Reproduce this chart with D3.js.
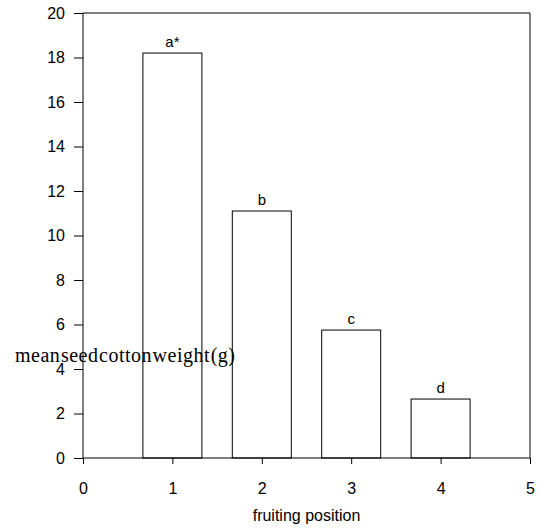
<!DOCTYPE html>
<html>
<head>
<meta charset="utf-8">
<script src="https://cdn.jsdelivr.net/npm/d3@7"></script>
<style>
  html, body { margin: 0; padding: 0; background: #fff; }
  svg { display: block; }
  text { font-family: "Liberation Sans", Arial, sans-serif; fill: #000; }
</style>
</head>
<body>
<script>
// Seed cotton weight by fruiting position
const positions = [1, 2, 3, 4];
const meanWeight = [18.2, 11.1, 5.75, 2.65];
const sigLetters = ["a*", "b", "c", "d"];
const xTicks = [0, 1, 2, 3, 4, 5];
const yTicks = [0, 2, 4, 6, 8, 10, 12, 14, 16, 18, 20];

(function () {
  const W = 542, H = 529;
  const mLeft = 83, mRight = 530, mTop = 13, mBottom = 458;
  const barWidth = 0.66;

  const svg = d3.select("body").append("svg")
    .attr("width", W).attr("height", H);

  const x = d3.scaleLinear().domain([0, 5]).range([mLeft, mRight]);
  const y = d3.scaleLinear().domain([0, 20]).range([mBottom, mTop]);

  // bars
  svg.selectAll("rect.bar")
    .data(positions)
    .enter().append("rect")
    .attr("class", "bar")
    .attr("x", (d) => x(d - barWidth / 2))
    .attr("y", (d, i) => y(meanWeight[i]))
    .attr("width", (d) => x(d + barWidth / 2) - x(d - barWidth / 2))
    .attr("height", (d, i) => y(0) - y(meanWeight[i]))
    .attr("fill", "#fff")
    .attr("stroke", "#000")
    .attr("stroke-width", 1);

  // significance letters
  svg.selectAll("text.sig")
    .data(positions)
    .enter().append("text")
    .attr("class", "sig")
    .attr("x", (d) => x(d))
    .attr("y", (d, i) => y(meanWeight[i]) - 6)
    .attr("text-anchor", "middle")
    .style("font-size", "15px")
    .text((d, i) => sigLetters[i]);

  // frame (top and right)
  svg.append("line").attr("x1", mLeft).attr("x2", mRight).attr("y1", mTop).attr("y2", mTop)
    .attr("stroke", "#000");
  svg.append("line").attr("x1", mRight).attr("x2", mRight).attr("y1", mTop).attr("y2", mBottom)
    .attr("stroke", "#000");

  // axes
  const xAxis = d3.axisBottom(x).tickValues(xTicks).tickFormat(d3.format("d"))
    .tickSize(6).tickPadding(19);
  const yAxis = d3.axisLeft(y).tickValues(yTicks).tickFormat(d3.format("d"))
    .tickSize(9).tickPadding(9);

  const gx = svg.append("g").attr("transform", `translate(0,${mBottom})`).call(xAxis);
  const gy = svg.append("g").attr("transform", `translate(${mLeft},0)`).call(yAxis);

  gx.select(".domain").attr("d", `M${mLeft},0H${mRight}`).attr("stroke", "#000");
  gy.select(".domain").attr("d", `M0,${mTop}V${mBottom}`).attr("stroke", "#000");
  [gx, gy].forEach((g) => {
    g.selectAll("text").style("font-size", "16px").style("font-family", "Liberation Sans, Arial, sans-serif");
    g.selectAll("line").attr("stroke", "#000");
  });

  // axis titles
  svg.append("text")
    .attr("x", x(2.5))
    .attr("y", 521)
    .attr("text-anchor", "middle")
    .style("font-size", "16px")
    .text("fruiting position");

  svg.append("text")
    .attr("x", 15)
    .attr("y", 362)
    .attr("textLength", 220)
    .attr("lengthAdjust", "spacing")
    .style("font-family", "'Liberation Serif', 'DejaVu Serif', serif")
    .style("font-size", "20px")
    .style("word-spacing", "-5px")
    .text("mean seed cotton weight (g)");
})();
</script>
</body>
</html>
